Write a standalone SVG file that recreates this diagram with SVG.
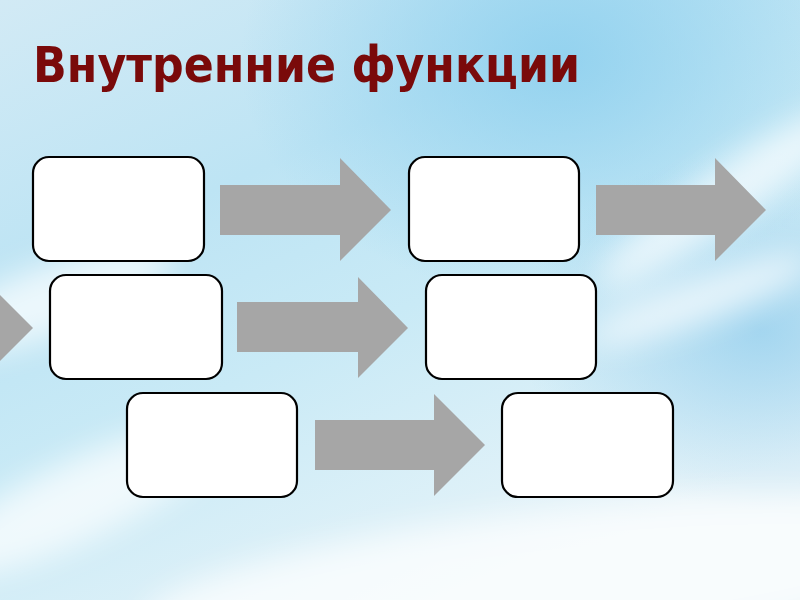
<svg xmlns="http://www.w3.org/2000/svg" width="800" height="600" viewBox="0 0 800 600">
  <defs>
    <linearGradient id="sky" x1="0" y1="0" x2="0.6" y2="1">
      <stop offset="0" stop-color="#d2eaf5"/>
      <stop offset="0.35" stop-color="#bde4f4"/>
      <stop offset="0.6" stop-color="#c9eaf6"/>
      <stop offset="1" stop-color="#e8f4f9"/>
    </linearGradient>
    <radialGradient id="blue" cx="0.7" cy="0.1" r="0.4">
      <stop offset="0" stop-color="#8ccfee" stop-opacity="0.85"/>
      <stop offset="1" stop-color="#8ccfee" stop-opacity="0"/>
    </radialGradient>
    <radialGradient id="blue2" cx="0.95" cy="0.55" r="0.3">
      <stop offset="0" stop-color="#8ccbec" stop-opacity="0.7"/>
      <stop offset="1" stop-color="#8ccbec" stop-opacity="0"/>
    </radialGradient>
    <filter id="blur" x="-50%" y="-50%" width="200%" height="200%">
      <feGaussianBlur stdDeviation="16"/>
    </filter>
    <style>
      .box { fill: #ffffff; stroke: #000000; stroke-width: 2.2; }
      .arrow { fill: #a6a6a6; stroke: none; }
      .title { font-family: "DejaVu Sans", "Liberation Sans", sans-serif; font-weight: bold; font-size: 49px; fill: #7a0a0a; }
    </style>
  </defs>

  <!-- background -->
  <rect x="0" y="0" width="800" height="600" fill="url(#sky)"/>
  <rect x="0" y="0" width="800" height="600" fill="url(#blue)"/>
  <rect x="0" y="0" width="800" height="600" fill="url(#blue2)"/>
  <g filter="url(#blur)" fill="#ffffff" opacity="0.7">
    <ellipse cx="50" cy="300" rx="130" ry="35" transform="rotate(-20 50 300)"/>
    <ellipse cx="720" cy="200" rx="150" ry="28" transform="rotate(-35 720 200)"/>
    <ellipse cx="560" cy="580" rx="420" ry="70" transform="rotate(-6 560 580)"/>
    <ellipse cx="80" cy="500" rx="160" ry="40" transform="rotate(-25 80 500)"/>
    <ellipse cx="700" cy="300" rx="120" ry="22" transform="rotate(-20 700 300)"/>
  </g>

  <!-- title -->
  <text class="title" x="33" y="82" textLength="547" lengthAdjust="spacingAndGlyphs">Внутренние функции</text>

  <!-- connectors -->
  <g id="connectors">
    <polygon class="arrow" points="-200,302 -18,302 -18,277 33,328 -18,379 -18,354 -200,354"/>
    <polygon class="arrow" points="220,185 340,185 340,158 391,210 340,261 340,235 220,235"/>
    <polygon class="arrow" points="596,185 715,185 715,158 766,210 715,261 715,235 596,235"/>
    <polygon class="arrow" points="237,302 358,302 358,277 408,328 358,378 358,352 237,352"/>
    <polygon class="arrow" points="315,420 434,420 434,394 485,445 434,496 434,470 315,470"/>
  </g>

  <!-- nodes -->
  <g id="node1"><rect class="box" x="33" y="157" width="171" height="104" rx="16"/></g>
  <g id="node2"><rect class="box" x="409" y="157" width="170" height="104" rx="16"/></g>
  <g id="node3"><rect class="box" x="50" y="275" width="172" height="104" rx="16"/></g>
  <g id="node4"><rect class="box" x="426" y="275" width="170" height="104" rx="16"/></g>
  <g id="node5"><rect class="box" x="127" y="393" width="170" height="104" rx="16"/></g>
  <g id="node6"><rect class="box" x="502" y="393" width="171" height="104" rx="16"/></g>
</svg>
